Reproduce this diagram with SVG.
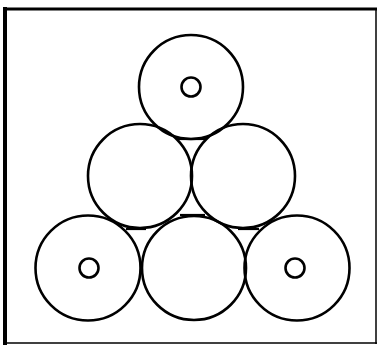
<svg xmlns="http://www.w3.org/2000/svg" width="378" height="345" viewBox="0 0 378 345">
<style>
.c{fill:none;stroke:#000;stroke-width:2.6}
.h{fill:none;stroke:#000;stroke-width:2.2}
.l{stroke:#000;fill:none}
</style>
<rect width="378" height="345" fill="#fff"/>
<g id="frame">
<line class="l" x1="5" y1="7" x2="5" y2="345" stroke-width="4"/>
<line class="l" x1="3" y1="9" x2="377" y2="9" stroke-width="3"/>
<line class="l" x1="376" y1="8" x2="376" y2="344" stroke-width="1.5" stroke="#555"/>
<line class="l" x1="4" y1="343" x2="377" y2="343" stroke-width="1.5" stroke="#555"/>
</g>
<g id="connectors">
<line class="h" x1="177" y1="139" x2="206" y2="139"/>
<line class="h" x1="180" y1="215" x2="205" y2="215"/>
<line class="h" x1="126" y1="229" x2="146" y2="229"/>
<line class="h" x1="238" y1="229" x2="259" y2="229"/>
</g>
<g id="top"><circle class="c" cx="191" cy="87" r="52"/><circle class="c" cx="191" cy="87" r="9.5"/></g>
<g id="midL"><circle class="c" cx="140" cy="176" r="52"/></g>
<g id="midR"><circle class="c" cx="243" cy="176" r="52"/></g>
<g id="botL"><circle class="c" cx="88" cy="268" r="52.5"/><circle class="c" cx="89" cy="268" r="9.5"/></g>
<g id="botM"><circle class="c" cx="194" cy="268" r="52"/></g>
<g id="botR"><circle class="c" cx="297" cy="268" r="52.5"/><circle class="c" cx="295" cy="268" r="9.5"/></g>
</svg>
